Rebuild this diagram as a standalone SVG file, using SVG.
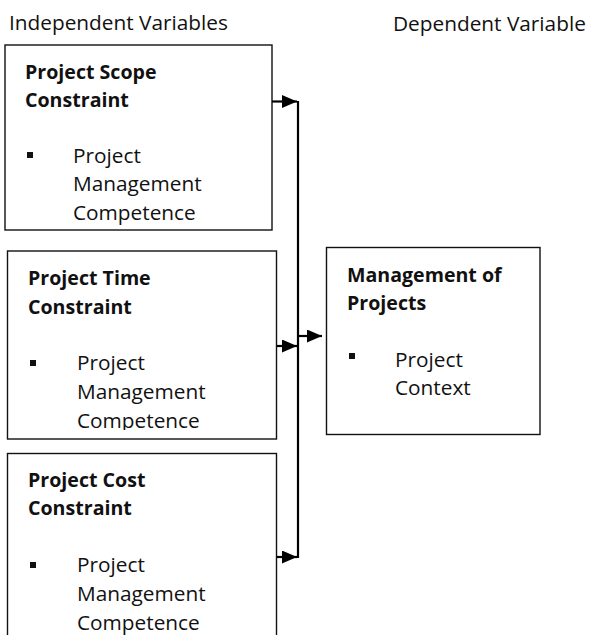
<svg xmlns="http://www.w3.org/2000/svg" width="590" height="635" viewBox="0 0 590 635">
  <style>
    text { font-family: "Open Sans", "Liberation Sans", sans-serif; font-size: 20.8px; fill: #111; }
    .title { font-weight: bold; font-size: 19.6px; }
    .box { fill: #fff; stroke: #111; stroke-width: 1.4; }
    .bullet { fill: #111; }
    .wire { fill: none; stroke: #000; stroke-width: 2.2; }
  </style>
  <defs>
    <marker id="head" viewBox="0 0 15 13" refX="15" refY="6.5" markerWidth="15" markerHeight="13" markerUnits="userSpaceOnUse" orient="auto">
      <path d="M0,0 L15,6.5 L0,13 Z" fill="#000"/>
    </marker>
    <!-- inner text areas; overflowing lines are cut like a fixed text box -->
    <clipPath id="clip-scope"><rect x="5" y="45" width="267" height="182"/></clipPath>
    <clipPath id="clip-time"><rect x="7" y="251" width="269" height="179"/></clipPath>
    <clipPath id="clip-cost"><rect x="7" y="453" width="269" height="182"/></clipPath>
  </defs>

  <rect width="590" height="635" fill="#fff"/>

  <text x="9" y="30">Independent Variables</text>
  <text x="393" y="31">Dependent Variable</text>

  <g id="scope">
    <rect class="box" x="5" y="45" width="267" height="185"/>
    <g clip-path="url(#clip-scope)">
      <text class="title" x="25" y="79">Project Scope</text>
      <text class="title" x="25" y="107">Constraint</text>
      <rect class="bullet" x="27" y="152" width="6" height="6"/>
      <text x="73" y="163">Project</text>
      <text x="73" y="191">Management</text>
      <text x="73" y="220">Competence</text>
    </g>
  </g>

  <g id="time">
    <rect class="box" x="7.5" y="251" width="269" height="188"/>
    <g clip-path="url(#clip-time)">
      <text class="title" x="28" y="285">Project Time</text>
      <text class="title" x="28" y="314">Constraint</text>
      <rect class="bullet" x="30" y="360" width="6" height="6"/>
      <text x="77" y="370">Project</text>
      <text x="77" y="399">Management</text>
      <text x="77" y="428">Competence</text>
    </g>
  </g>

  <g id="cost">
    <rect class="box" x="7.5" y="453.5" width="269" height="200"/>
    <g clip-path="url(#clip-cost)">
      <text class="title" x="28" y="487">Project Cost</text>
      <text class="title" x="28" y="515">Constraint</text>
      <rect class="bullet" x="30" y="562" width="6" height="6"/>
      <text x="77" y="572">Project</text>
      <text x="77" y="601">Management</text>
      <text x="77" y="630">Competence</text>
    </g>
  </g>

  <g id="management">
    <rect class="box" x="326.5" y="247.5" width="213.5" height="187"/>
    <text class="title" x="347" y="282">Management of</text>
    <text class="title" x="347" y="310">Projects</text>
    <rect class="bullet" x="349" y="353" width="6" height="6"/>
    <text x="395" y="367">Project</text>
    <text x="395" y="395">Context</text>
  </g>

  <g id="connectors">
    <line class="wire" x1="298" y1="101" x2="298" y2="558"/>
    <line class="wire" x1="272" y1="101.5" x2="297" y2="101.5" marker-end="url(#head)"/>
    <line class="wire" x1="277" y1="346" x2="297" y2="346" marker-end="url(#head)"/>
    <line class="wire" x1="277" y1="557" x2="297" y2="557" marker-end="url(#head)"/>
    <line class="wire" x1="298" y1="336" x2="322" y2="336" marker-end="url(#head)"/>
  </g>
</svg>
